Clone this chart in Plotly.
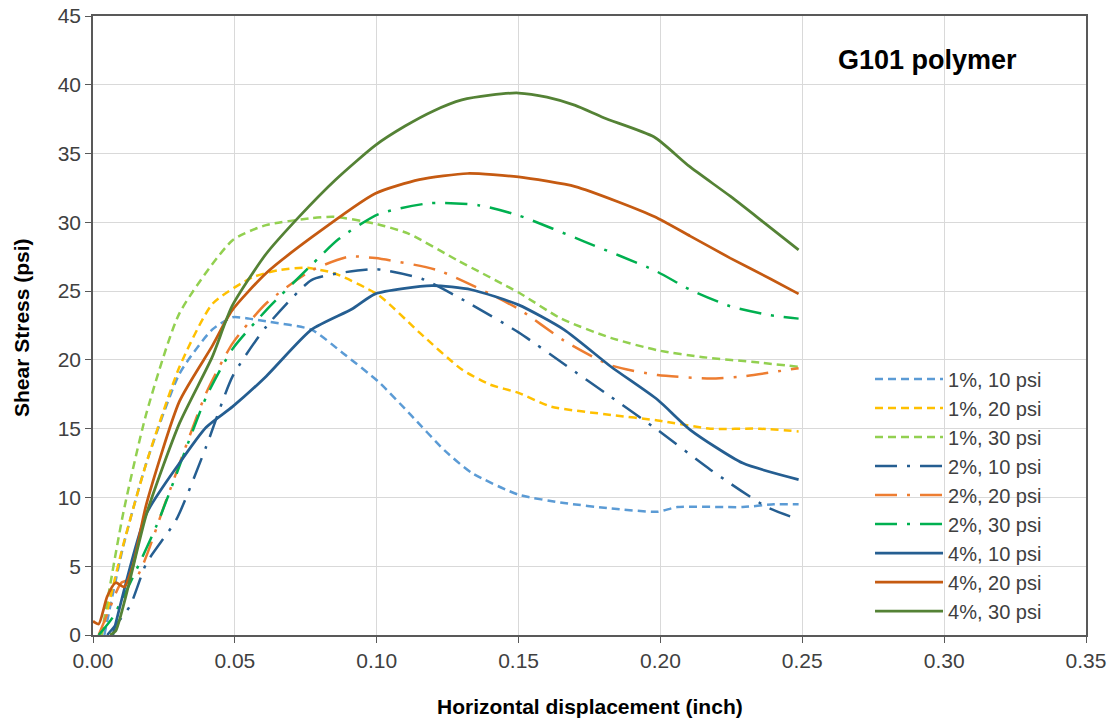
import plotly.graph_objects as go

# ---------------- data ----------------
x_1_10 = [0.004, 0.0106, 0.0188, 0.0305, 0.042, 0.0492, 0.055, 0.061, 0.077, 0.088, 0.1007, 0.112, 0.124, 0.1334, 0.15, 0.166, 0.1826, 0.199, 0.206, 0.229, 0.24, 0.2487]
y_1_10 = [0, 6.4, 12.5, 19.0, 22.2, 23.1, 23.0, 22.8, 22.2, 20.5, 18.4, 16.0, 13.4, 11.8, 10.2, 9.6, 9.2, 8.96, 9.3, 9.3, 9.5, 9.5]

x_1_20 = [0.003, 0.0106, 0.0188, 0.0305, 0.0422, 0.0562, 0.065, 0.075, 0.085, 0.1007, 0.115, 0.13, 0.14, 0.15, 0.1615, 0.1826, 0.199, 0.2176, 0.235, 0.2487]
y_1_20 = [0, 6.5, 12.5, 19.5, 24.1, 26.0, 26.5, 26.7, 26.3, 24.7, 22.0, 19.3, 18.2, 17.6, 16.6, 16.0, 15.6, 15.0, 15.0, 14.8]

x_1_30 = [0.003, 0.0106, 0.0188, 0.0305, 0.0492, 0.061, 0.077, 0.085, 0.0995, 0.111, 0.1288, 0.15, 0.165, 0.1825, 0.199, 0.215, 0.235, 0.2487]
y_1_30 = [0, 8.8, 16.1, 23.4, 28.7, 29.8, 30.3, 30.4, 29.9, 29.2, 27.2, 24.9, 23.0, 21.6, 20.7, 20.2, 19.8, 19.5]

x_2_10 = [0.005, 0.013, 0.0188, 0.0294, 0.0399, 0.0492, 0.061, 0.077, 0.0867, 0.0995, 0.1159, 0.131, 0.15, 0.166, 0.1826, 0.199, 0.2177, 0.2375, 0.2487]
y_2_10 = [0, 2.1, 5.2, 8.4, 13.7, 18.8, 22.4, 25.8, 26.3, 26.6, 25.9, 24.3, 22.0, 19.7, 17.3, 14.9, 12.0, 9.3, 8.4]

x_2_20 = [0.002, 0.006, 0.01, 0.0153, 0.0258, 0.0399, 0.0492, 0.061, 0.077, 0.0902, 0.0995, 0.1218, 0.15, 0.166, 0.1826, 0.199, 0.2177, 0.229, 0.2487]
y_2_20 = [0, 2.0, 3.8, 4.2, 9.8, 17.6, 21.2, 24.1, 26.5, 27.5, 27.4, 26.5, 23.7, 21.4, 19.6, 18.9, 18.65, 18.8, 19.4]

x_2_30 = [0.002, 0.007, 0.0223, 0.0399, 0.0492, 0.061, 0.077, 0.0867, 0.1007, 0.119, 0.1358, 0.15, 0.1732, 0.198, 0.2105, 0.2246, 0.2387, 0.2487]
y_2_30 = [0, 1.3, 7.9, 17.3, 20.8, 23.6, 26.9, 28.8, 30.6, 31.4, 31.25, 30.5, 28.6, 26.5, 25.1, 23.9, 23.25, 23.0]

x_4_10 = [0.007, 0.0188, 0.0305, 0.0399, 0.0492, 0.061, 0.077, 0.0913, 0.0995, 0.1194, 0.1334, 0.15, 0.166, 0.1826, 0.199, 0.2106, 0.229, 0.2487]
y_4_10 = [0, 8.8, 12.5, 15.1, 16.6, 18.8, 22.2, 23.7, 24.8, 25.4, 25.1, 24.0, 22.2, 19.5, 17.1, 14.9, 12.5, 11.3]

x_4_20 = [0, 0.002, 0.005, 0.008, 0.011, 0.014, 0.0188, 0.0305, 0.042, 0.049, 0.061, 0.077, 0.0995, 0.115, 0.132, 0.15, 0.17, 0.185, 0.198, 0.2105, 0.2246, 0.2387, 0.2487]
y_4_20 = [1.0, 0.8, 2.8, 3.8, 3.5, 5.0, 9.5, 17.0, 21.0, 23.6, 26.3, 28.9, 32.1, 33.1, 33.55, 33.3, 32.6, 31.5, 30.4, 29.0, 27.4, 25.9, 24.8]

x_4_30 = [0.006, 0.008, 0.019, 0.0305, 0.042, 0.049, 0.061, 0.0726, 0.0855, 0.0995, 0.11, 0.12, 0.13, 0.14, 0.15, 0.16, 0.17, 0.18, 0.1978, 0.21, 0.2246, 0.2364, 0.2487]
y_4_30 = [0, 0.3, 8.9, 15.4, 20.2, 23.9, 27.7, 30.4, 33.1, 35.6, 37.0, 38.1, 38.9, 39.25, 39.4, 39.1, 38.5, 37.6, 36.2, 34.1, 31.9, 30.0, 28.0]

series_names = ["1%, 10 psi", "1%, 20 psi", "1%, 30 psi",
                "2%, 10 psi", "2%, 20 psi", "2%, 30 psi",
                "4%, 10 psi", "4%, 20 psi", "4%, 30 psi"]
series_x = [x_1_10, x_1_20, x_1_30, x_2_10, x_2_20, x_2_30, x_4_10, x_4_20, x_4_30]
series_y = [y_1_10, y_1_20, y_1_30, y_2_10, y_2_20, y_2_30, y_4_10, y_4_20, y_4_30]

x_ticks = [0.00, 0.05, 0.10, 0.15, 0.20, 0.25, 0.30, 0.35]
y_ticks = [0, 5, 10, 15, 20, 25, 30, 35, 40, 45]

# ---------------- styling ----------------
colors = ["#5B9BD5", "#FFC000", "#92D050",
          "#255E91", "#ED7D31", "#00B050",
          "#255E91", "#C55A11", "#548235"]
dashes = ["8px,5px"] * 3 + ["22px,10px,3px,10px"] * 3 + ["solid"] * 3
widths = [2.5] * 6 + [2.75] * 3

FONT = "Liberation Sans, Arial, sans-serif"

fig = go.Figure()
for name, xs, ys, c, d, w in zip(series_names, series_x, series_y, colors, dashes, widths):
    fig.add_trace(go.Scatter(
        x=xs, y=ys, mode="lines", name=name,
        line=dict(color=c, dash=d, width=w, shape="spline", smoothing=0.6),
    ))

fig.update_layout(
    width=1114, height=725,
    margin=dict(l=93, r=28, t=16, b=90),
    paper_bgcolor="white", plot_bgcolor="white",
    font=dict(family=FONT, size=21, color="#404040"),
    showlegend=True,
    legend=dict(
        x=0.7825, y=0.445, xanchor="left", yanchor="top",
        bgcolor="rgba(0,0,0,0)", font=dict(family=FONT, size=20, color="#404040"),
        tracegroupgap=0, itemwidth=68,
    ),
    annotations=[
        dict(text="<b>G101 polymer</b>", x=0.84, y=0.929, xref="paper", yref="paper",
             xanchor="center", yanchor="middle", showarrow=False,
             font=dict(family=FONT, size=27, color="black")),
        dict(text="<b>Horizontal displacement (inch)</b>", x=0.5005, y=-0.1163,
             xref="paper", yref="paper", xanchor="center", yanchor="middle",
             showarrow=False, font=dict(family=FONT, size=21, color="black")),
        dict(text="<b>Shear Stress (psi)</b>", x=-0.0715, y=0.496, textangle=-90,
             xref="paper", yref="paper", xanchor="center", yanchor="middle",
             showarrow=False, font=dict(family=FONT, size=21, color="black")),
    ],
)

fig.update_xaxes(
    range=[0, 0.35], tickvals=x_ticks, ticktext=[f"{v:.2f}" for v in x_ticks],
    tickfont=dict(family=FONT, size=21, color="#404040"),
    showgrid=True, gridcolor="#D9D9D9", gridwidth=1,
    showline=True, mirror=True, linecolor="#595959", linewidth=1.5,
    ticks="outside", ticklen=6, tickcolor="#595959",
    zeroline=False, automargin=False, ticklabeloverflow="allow",
)
fig.update_yaxes(
    range=[0, 45], tickvals=y_ticks,
    tickfont=dict(family=FONT, size=21, color="#404040"),
    showgrid=True, gridcolor="#D9D9D9", gridwidth=1,
    showline=True, mirror=True, linecolor="#595959", linewidth=1.5,
    ticks="outside", ticklen=6, tickcolor="#595959",
    zeroline=False, automargin=False, ticklabeloverflow="allow",
)

# remove the default 8 px page margin so the figure fills the window exactly
fig.write_html("out.html",
               config={"displayModeBar": False},
               post_script="document.body.style.margin='0';document.body.style.overflow='hidden';")
